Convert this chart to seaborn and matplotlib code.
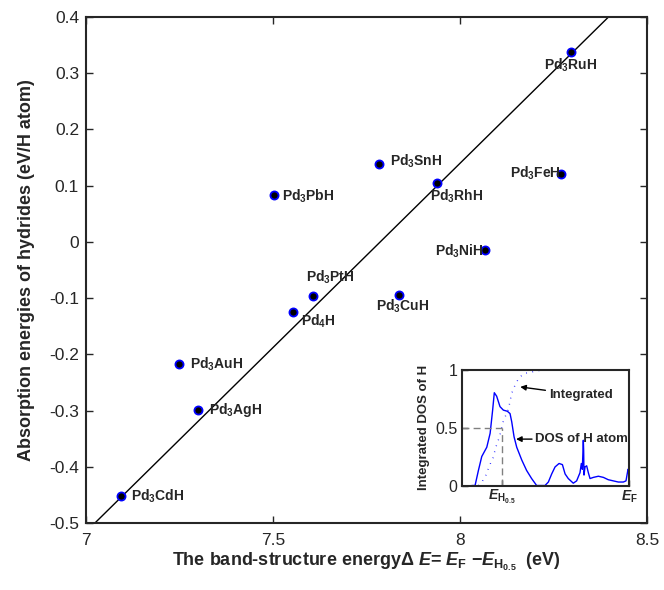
import numpy as np
import pandas as pd
import matplotlib
matplotlib.use("Agg")
import matplotlib.pyplot as plt
import seaborn as sns

# ---- main data ----
names = ["Pd$_3$RuH", "Pd$_3$SnH", "Pd$_3$RhH", "Pd$_3$FeH", "Pd$_3$NiH", "Pd$_3$CuH",
         "Pd$_3$PbH", "Pd$_3$PtH", "Pd$_4$H", "Pd$_3$AuH", "Pd$_3$AgH", "Pd$_3$CdH"]
band_energy = [8.296, 7.784, 7.938, 8.270, 8.066, 7.836, 7.503, 7.606, 7.554, 7.248, 7.299, 7.094]
absorption = [0.337, 0.139, 0.104, 0.121, -0.014, -0.094, 0.084, -0.097, -0.125, -0.217, -0.299, -0.452]
fit_x = [7.024, 8.397]
fit_y = [-0.5, 0.4]
x_ticks = [7, 7.5, 8, 8.5]
x_ticklabels = ["7", "7.5", "8", "8.5"]
y_ticks = [0.4, 0.3, 0.2, 0.1, 0.0, -0.1, -0.2, -0.3, -0.4, -0.5]
y_ticklabels = ["0.4", "0.3", "0.2", "0.1", "0", "-0.1", "-0.2", "-0.3", "-0.4", "-0.5"]

# label offsets (pixels) and alignment
label_dx = [-27, 11, -7, -51, -50, -23, 8, -7, 8, 11, 11, 10]
label_dy = [-13, 2, -13, 1, -2, -12, -2, 19, -9, 0, 0, 0]

# ---- inset data ----
dos_x = [0.06, 0.08, 0.10, 0.12, 0.15, 0.17, 0.185, 0.195, 0.209, 0.229, 0.249, 0.273, 0.289,
         0.299, 0.313, 0.329, 0.359, 0.388, 0.418, 0.448, 0.498, 0.518, 0.538, 0.558, 0.582,
         0.602, 0.618, 0.637, 0.667, 0.687, 0.707, 0.715, 0.721, 0.725, 0.727, 0.729, 0.731,
         0.737, 0.747, 0.757, 0.767, 0.787, 0.817, 0.847, 0.876, 0.906, 0.936, 0.966, 0.982,
         0.994, 1.0]
dos_y = [0.0, 0.0, 0.13, 0.25, 0.33, 0.45, 0.65, 0.80, 0.77, 0.68, 0.65, 0.64, 0.62,
         0.55, 0.42, 0.33, 0.22, 0.13, 0.06, 0.0, 0.0, 0.03, 0.10, 0.16, 0.19,
         0.18, 0.10, 0.06, 0.02, 0.04, 0.11, 0.19, 0.14, 0.30, 0.39, 0.30, 0.09,
         0.16, 0.17, 0.11, 0.06, 0.07, 0.08, 0.07, 0.05, 0.04, 0.03, 0.03, 0.04,
         0.14, 0.13]
int_x = [0.10, 0.125, 0.145, 0.165, 0.189, 0.203, 0.225, 0.235, 0.249, 0.279, 0.299, 0.319,
         0.344, 0.378, 0.448, 0.498]
int_y = [0.0, 0.04, 0.09, 0.168, 0.243, 0.326, 0.416, 0.472, 0.556, 0.657, 0.795, 0.866,
         0.933, 0.967, 0.987, 1.0]
e_half = 0.239
inset_yticks = [0, 0.5, 1]
inset_yticklabels = ["0", "0.5", "1"]

sns.set_theme(style="ticks")
plt.rcParams['font.family'] = ['Liberation Sans', 'DejaVu Sans']
plt.rcParams['axes.unicode_minus'] = False
plt.rcParams['mathtext.fontset'] = 'custom'
plt.rcParams['mathtext.rm'] = 'Liberation Sans:bold'
plt.rcParams['mathtext.bf'] = 'Liberation Sans:bold'
plt.rcParams['mathtext.it'] = 'Liberation Sans:bold:italic'
plt.rcParams['mathtext.sf'] = 'Liberation Sans:bold'

fig = plt.figure(figsize=(6.64, 5.9), dpi=100)
ax = fig.add_axes([0.1295, 0.1136, 0.8449, 0.8576])

sns.lineplot(x=fit_x, y=fit_y, ax=ax, color="black", linewidth=1.0, zorder=2)
sns.scatterplot(x=band_energy, y=absorption, ax=ax, color="black", edgecolor="blue",
                s=34, linewidth=1.3, zorder=3)

for n, x, y, dx, dy in zip(names, band_energy, absorption, label_dx, label_dy):
    ax.annotate(n, (x, y), xytext=(dx, dy), textcoords="offset pixels",
                ha="left", va="center", fontsize=10, fontweight="bold")

ax.set_xlim(7, 8.5)
ax.set_ylim(-0.5, 0.4)
ax.set_xticks(x_ticks)
ax.set_xticklabels(x_ticklabels)
ax.set_yticks(y_ticks)
ax.set_yticklabels(y_ticklabels)
ax.tick_params(direction="in", top=True, right=True, length=5, width=1, labelsize=12.5, pad=5)
ax.tick_params(axis="x", pad=7)
for s in ax.spines.values():
    s.set_linewidth(1.5)
ax.set_xlabel(r"The band-structure energy$\Delta\ E$= $E_{\rm F}$ $-E_{{\rm H}_{0.5}}$  (eV)",
              fontsize=13, fontweight="bold", labelpad=2)
ax.set_ylabel("Absorption energies of hydrides (eV/H atom)", fontsize=13, fontweight="bold",
              labelpad=10)

# ---- inset ----
axi = fig.add_axes([0.6953, 0.1771, 0.2520, 0.1966])
axi.set_facecolor("white")
sns.lineplot(x=dos_x, y=dos_y, ax=axi, color="blue", linewidth=1.0)
sns.lineplot(x=int_x, y=int_y, ax=axi, color="blue", linewidth=1.0, linestyle=(0, (0.5, 4)))
axi.plot([0, e_half], [0.5, 0.5], color="gray", linestyle=(0, (5, 3)), linewidth=1.0)
axi.plot([e_half, e_half], [0, 0.5], color="gray", linestyle=(0, (5, 3)), linewidth=1.0)
axi.set_xlim(0, 1)
axi.set_ylim(0, 1)
axi.set_yticks(inset_yticks)
axi.set_yticklabels(inset_yticklabels)
axi.set_xticks([e_half, 1.0])
axi.set_xticklabels([r"$E_{{\rm H}_{0.5}}$", r"$E_{\rm F}$"])
axi.tick_params(direction="in", length=4, width=1, labelsize=11.5, pad=3)
axi.tick_params(axis="x", labelsize=10, pad=2)
for s in axi.spines.values():
    s.set_linewidth(1.5)
axi.set_ylabel("Integrated DOS of H", fontsize=9.5, fontweight="bold", labelpad=4)
axi.annotate("Integrated", xy=(0.35, 0.85), xytext=(0.52, 0.78), fontsize=9.5,
             fontweight="bold", va="center", ha="left",
             arrowprops=dict(arrowstyle="-|>", color="black", lw=1.0, shrinkA=0, shrinkB=0,
                             mutation_scale=8))
axi.annotate("DOS of H atom", xy=(0.325, 0.40), xytext=(0.44, 0.40), fontsize=9.5,
             fontweight="bold", va="center", ha="left",
             arrowprops=dict(arrowstyle="-|>", color="black", lw=1.0, shrinkA=0, shrinkB=0,
                             mutation_scale=8))

fig.savefig("out.png", dpi=100)
